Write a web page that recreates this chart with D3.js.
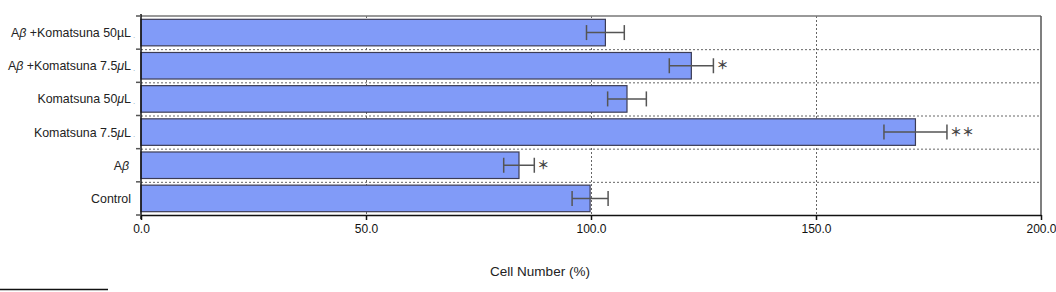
<!DOCTYPE html>
<html lang="en">
<head>
    <meta charset="UTF-8">
    <title>Cell Number</title>
    <script src="https://cdn.jsdelivr.net/npm/d3@7"></script>
    <style>
        body { margin: 0; background: #fff; }
        #chart { width: 1056px; height: 292px; }
        text { font-family: "Liberation Sans", Arial, sans-serif; }
    </style>
</head>
<body>
<div id="chart"></div>
<script>
    // data, bottom to top as drawn
    var categories = ["Control", "A\u03b2", "Komatsuna 7.5\u03bcL", "Komatsuna 50\u03bcL", "A\u03b2 +Komatsuna 7.5\u03bcL", "A\u03b2 +Komatsuna 50\u00b5L"];
    var means = [99.8, 84.0, 172.1, 108.0, 122.3, 103.2];
    var errors = [4.0, 3.4, 7.0, 4.3, 4.9, 4.2];
    var marks = ["", "\uff0a", "\uff0a\uff0a", "", "\uff0a", ""];
    var xTicks = [0, 50, 100, 150, 200];

    var width = 1056, height = 292;
    // note: "top" is window.top, so plot edges get their own names
    var plotL = 141, plotR = 1041, plotT = 16, plotB = 215;

    var svg = d3.select("#chart").append("svg")
        .attr("width", width)
        .attr("height", height);

    var x = d3.scaleLinear().domain([0, 200]).range([plotL, plotR]);
    // rows: one band per category, top row is the last category
    var order = categories.slice().reverse();
    var rows = d3.scaleBand().domain(order).range([plotT, plotB]);
    var bars = d3.scaleBand().domain(order).range([plotT, plotB])
        .paddingInner(0.2).paddingOuter(0.1);

    // dotted grid
    var grid = svg.append("g");
    grid.selectAll("line.v")
        .data(xTicks.slice(1, -1))
        .enter().append("line")
        .attr("class", "v")
        .attr("x1", function (d) { return x(d) + 0.5; })
        .attr("x2", function (d) { return x(d) + 0.5; })
        .attr("y1", plotT).attr("y2", plotB)
        .attr("stroke", "#666")
        .attr("stroke-dasharray", "2,2");
    grid.selectAll("line.h")
        .data(order.slice(1))
        .enter().append("line")
        .attr("class", "h")
        .attr("x1", plotL).attr("x2", plotR)
        .attr("y1", function (d) { return rows(d) + 0.5; })
        .attr("y2", function (d) { return rows(d) + 0.5; })
        .attr("stroke", "#666")
        .attr("stroke-dasharray", "2,2");

    // frame top and right
    svg.append("line").attr("x1", plotL).attr("x2", plotR).attr("y1", plotT).attr("y2", plotT)
        .attr("stroke", "#777").attr("stroke-width", 1.5);
    svg.append("line").attr("x1", plotR).attr("x2", plotR).attr("y1", plotT).attr("y2", plotB)
        .attr("stroke", "#555").attr("stroke-width", 1.5);

    // bars
    svg.append("g").selectAll("rect")
        .data(categories)
        .enter().append("rect")
        .attr("x", x(0))
        .attr("y", function (d) { return bars(d); })
        .attr("width", function (d, i) { return x(means[i]) - x(0); })
        .attr("height", bars.bandwidth())
        .attr("fill", "#819bf8")
        .attr("stroke", "#3c3c55")
        .attr("stroke-width", 1.2);

    // error bars
    var eb = svg.append("g").attr("stroke", "#555").attr("stroke-width", 1.5);
    categories.forEach(function (c, i) {
        var cy = bars(c) + bars.bandwidth() / 2;
        var x1 = x(means[i] - errors[i]), x2 = x(means[i] + errors[i]);
        eb.append("line").attr("x1", x1).attr("x2", x2).attr("y1", cy).attr("y2", cy);
        eb.append("line").attr("x1", x1).attr("x2", x1).attr("y1", cy - 7.5).attr("y2", cy + 7.5);
        eb.append("line").attr("x1", x2).attr("x2", x2).attr("y1", cy - 7.5).attr("y2", cy + 7.5);
        if (marks[i]) {
            svg.append("text")
                .attr("x", x2 + 3)
                .attr("y", cy + 4.5)
                .attr("font-size", 12)
                .attr("font-weight", "bold")
                .attr("letter-spacing", 0)
                .attr("fill", "#444")
                .style("font-family", "'Noto Sans CJK JP', sans-serif")
                .text(marks[i]);
        }
    });

    // x axis
    var xAxis = d3.axisBottom(x).tickValues(xTicks).tickSize(5).tickSizeOuter(0)
        .tickFormat(d3.format(".1f"));
    var gx = svg.append("g").attr("transform", "translate(0," + plotB + ")").call(xAxis);
    gx.select(".domain").attr("stroke", "#111").attr("stroke-width", 1.5);
    gx.selectAll(".tick line").attr("stroke", "#111").attr("stroke-width", 1.5);
    gx.selectAll("text").attr("font-size", 12).attr("fill", "#111").attr("dy", "0.8em")
        .style("font-family", "'Liberation Sans', Arial, sans-serif");

    // y axis: ticks at row boundaries
    svg.append("line").attr("x1", plotL).attr("x2", plotL).attr("y1", plotT - 2).attr("y2", plotB + 4)
        .attr("stroke", "#111").attr("stroke-width", 1.5);
    var bounds = order.map(function (d) { return rows(d); }).concat([plotB]);
    svg.append("g").selectAll("line")
        .data(bounds)
        .enter().append("line")
        .attr("x1", plotL - 5).attr("x2", plotL)
        .attr("y1", function (d) { return d; })
        .attr("y2", function (d) { return d; })
        .attr("stroke", "#555").attr("stroke-width", 1.5);

    // y labels with italic greek letters
    var lab = svg.append("g").selectAll("text")
        .data(categories)
        .enter().append("text")
        .attr("x", function (d) { return d === "A\u03b2" ? plotL - 12 : plotL - 10; })
        .attr("y", function (d) { return rows(d) + rows.bandwidth() / 2 + 4.5; })
        .attr("text-anchor", "end")
        .attr("font-size", 12.4)
        .attr("fill", "#222");
    lab.each(function (d) {
        var t = d3.select(this);
        d.split(/([\u03b2\u03bc])/).forEach(function (p) {
            if (!p) return;
            var s = t.append("tspan").text(p);
            if (p === "\u03b2" || p === "\u03bc") s.attr("font-style", "italic");
        });
    });
    svg.append("g").selectAll("text")
        .data(categories.filter(function (d) { return d.indexOf("L") > 0; }))
        .enter().append("text")
        .attr("x", plotL - 8)
        .attr("y", function (d) { return rows(d) + rows.bandwidth() / 2 + 5; })
        .attr("font-size", 8)
        .attr("fill", "#8ab")
        .text(".");

    // axis title
    svg.append("text")
        .attr("x", 540)
        .attr("y", 276)
        .attr("text-anchor", "middle")
        .attr("font-size", 13.5)
        .attr("fill", "#222")
        .text("Cell Number (%)");

    // footnote rule
    svg.append("line").attr("x1", 0).attr("x2", 108).attr("y1", 289.5).attr("y2", 289.5)
        .attr("stroke", "#111").attr("stroke-width", 1.5);
</script>
</body>
</html>
